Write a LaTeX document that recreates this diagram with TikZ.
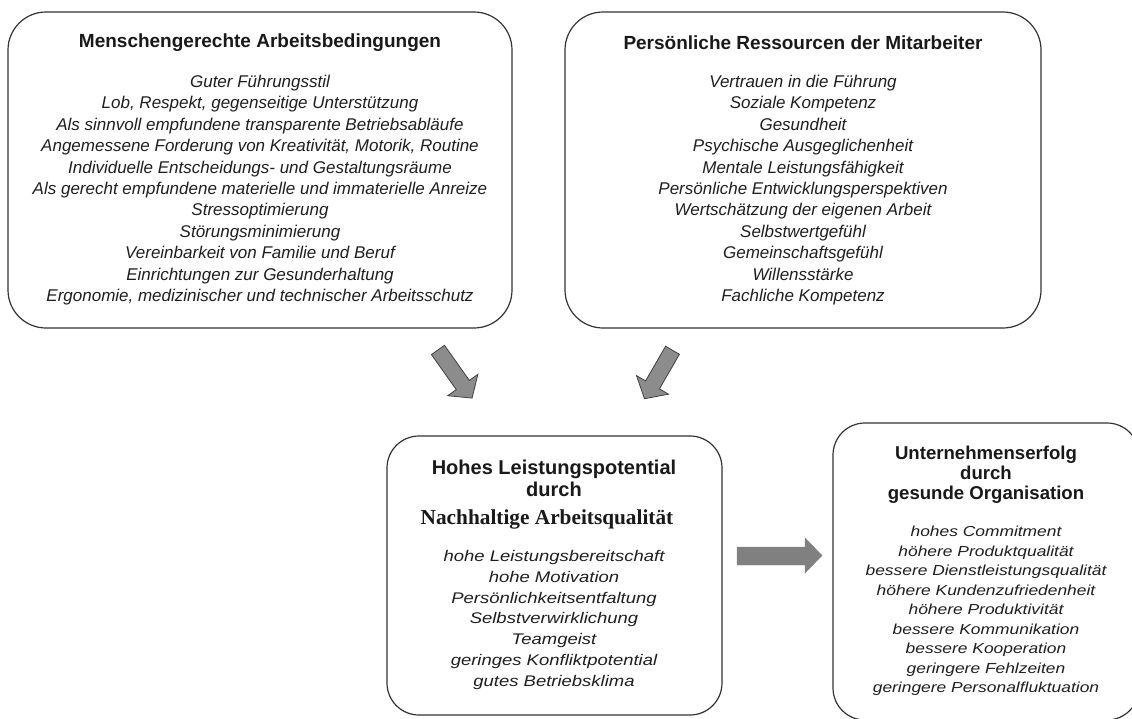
\documentclass[tikz,border=0pt]{standalone}
\usepackage{fontspec}
\setmainfont{Liberation Sans}
\newfontfamily\widefont{Liberation Sans}[FakeStretch=1.2]
\newfontfamily\nbserif{Liberation Serif}
\begin{document}
\begin{tikzpicture}[x=1pt,y=-1pt,
  box/.style={draw=black!80, line width=1.2pt, rounded corners=#1, inner sep=0pt},
  box/.default=38pt,
  ttl/.style={align=center, text=black!90, inner sep=0pt},
  itm/.style={align=center, text=black!88, inner sep=0pt},
  blockarrow/.style={fill=black!45, draw=black!75, line width=0.8pt, line join=miter},
  flatarrow/.style={fill=black!50, draw=black!50, line width=0.4pt}
]
\clip (0,0) rectangle (1132,718);
\fill[white] (0,0) rectangle (1132,718);

% boxes
\node[box, minimum width=504pt, minimum height=316pt] (b1) at (260,170) {};
\node[box, minimum width=476pt, minimum height=316pt] (b2) at (803,170) {};
\node[box=32pt, minimum width=335pt, minimum height=279pt] (b3) at (554.5,575.5) {};
\node[box=32pt, minimum width=306pt, minimum height=297pt] (b4) at (986,571.5) {};

% box 1
\node[ttl, font=\fontsize{19}{22}\selectfont\bfseries] (t1) at (260,43) {Menschengerechte Arbeitsbedingungen};
\node[itm, font=\fontsize{17}{21.4}\selectfont\itshape] (i1) at (260,190) {Guter Führungsstil\\
Lob, Respekt, gegenseitige Unterstützung\\
Als sinnvoll empfundene transparente Betriebsabläufe\\
Angemessene Forderung von Kreativität, Motorik, Routine\\
Individuelle Entscheidungs- und Gestaltungsräume\\
Als gerecht empfundene materielle und immaterielle Anreize\\
Stressoptimierung\\
Störungsminimierung\\
Vereinbarkeit von Familie und Beruf\\
Einrichtungen zur Gesunderhaltung\\
Ergonomie, medizinischer und technischer Arbeitsschutz};

% box 2
\node[ttl, font=\fontsize{19}{22}\selectfont\bfseries] (t2) at (803,43) {Persönliche Ressourcen der Mitarbeiter};
\node[itm, font=\fontsize{17}{21.4}\selectfont\itshape] (i2) at (803,190) {Vertrauen in die Führung\\
Soziale Kompetenz\\
Gesundheit\\
Psychische Ausgeglichenheit\\
Mentale Leistungsfähigkeit\\
Persönliche Entwicklungsperspektiven\\
Wertschätzung der eigenen Arbeit\\
Selbstwertgefühl\\
Gemeinschaftsgefühl\\
Willensstärke\\
Fachliche Kompetenz};

% box 3
\node[ttl, font=\fontsize{20}{22}\selectfont\bfseries] (t3) at (554,478) {Hohes Leistungspotential\\durch};
\node[ttl, font=\fontsize{21.3}{24}\selectfont\nbserif\bfseries] (t3b) at (547,519) {Nachhaltige Arbeitsqualität};
\node[itm, font=\fontsize{15.4}{20.8}\selectfont\widefont\itshape] (i3) at (554,620) {hohe Leistungsbereitschaft\\
hohe Motivation\\
Persönlichkeitsentfaltung\\
Selbstverwirklichung\\
Teamgeist\\
geringes Konfliktpotential\\
gutes Betriebsklima};

% box 4
\node[ttl, font=\fontsize{18.6}{20}\selectfont\bfseries] (t4) at (986,475) {Unternehmenserfolg\\durch\\gesunde Organisation};
\node[itm, font=\fontsize{14.5}{19.5}\selectfont\widefont\itshape] (i4) at (986,611) {hohes Commitment\\
höhere Produktqualität\\
bessere Dienstleistungsqualität\\
höhere Kundenzufriedenheit\\
höhere Produktivität\\
bessere Kommunikation\\
bessere Kooperation\\
geringere Fehlzeiten\\
geringere Personalfluktuation};

% block arrows
\begin{scope}[shift={(455,374)}, rotate=-54.7]
\draw[blockarrow] (-29.5,-8) -- (13.5,-8) -- (13.5,-18.5) -- (29.5,0) -- (13.5,18.5) -- (13.5,8) -- (-29.5,8) -- cycle;
\end{scope}
\begin{scope}[shift={(658.5,374.5)}, rotate=-120]
\draw[blockarrow] (-28,-8) -- (12,-8) -- (12,-18.5) -- (28,0) -- (12,18.5) -- (12,8) -- (-28,8) -- cycle;
\end{scope}
\draw[flatarrow] (737,547) -- (805,547) -- (805,538) -- (822,555.5) -- (805,573) -- (805,565) -- (737,565) -- cycle;
\end{tikzpicture}
\end{document}
